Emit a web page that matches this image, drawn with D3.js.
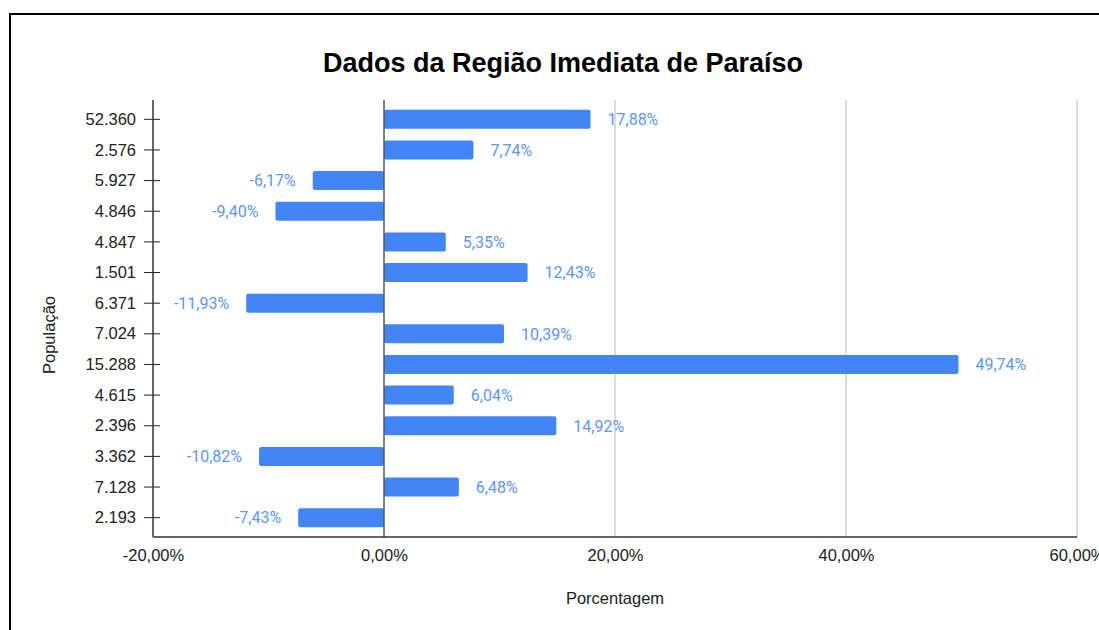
<!DOCTYPE html>
<meta charset="UTF-8">
<style>
    body { margin: 0; background: #fff; }
    text { font-family: "Liberation Sans", Arial, sans-serif; }
    .bar { fill: #4285f4; }
    .label { fill: #5e97f6; font-size: 16px; font-family: Roboto, "Liberation Sans", sans-serif; }
    .grid line { stroke: #d0d0d0; stroke-width: 1.5px; }
</style>
<body>
<div id="chart"></div>
<script src="https://d3js.org/d3.v7.min.js"></script>
<script>

// data
var categories = ["52.360", "2.576", "5.927", "4.846", "4.847", "1.501", "6.371",
                  "7.024", "15.288", "4.615", "2.396", "3.362", "7.128", "2.193"];
var values = [17.88, 7.74, -6.17, -9.40, 5.35, 12.43, -11.93,
              10.39, 49.74, 6.04, 14.92, -10.82, 6.48, -7.43];
var xTicks = [-20, 0, 20, 40, 60];

var width = 1099, height = 630;

// plot area
var plotLeft = 153, plotRight = 1077, plotTop = 100, plotBottom = 537;

var fmt = function(v) { return v.toFixed(2).replace(".", ",") + "%"; };

var svg = d3.select("#chart").append("svg")
    .attr("width", width)
    .attr("height", height);

// frame round the chart (right and bottom edges run off the page)
svg.append("rect")
    .attr("x", 10).attr("y", 14)
    .attr("width", 1200).attr("height", 700)
    .attr("fill", "none")
    .attr("stroke", "#000")
    .attr("stroke-width", 2);

// scales
var x = d3.scaleLinear().domain([-20, 60]).range([plotLeft, plotRight]);
var y = d3.scaleBand().domain(categories).range([104, 533]).paddingInner(0.38).paddingOuter(0.19);

// title
svg.append("text")
    .attr("x", 563).attr("y", 72)
    .attr("text-anchor", "middle")
    .style("font-size", "27px")
    .style("font-weight", "bold")
    .attr("fill", "#000")
    .text("Dados da Região Imediata de Paraíso");

// vertical gridlines
svg.append("g")
    .attr("class", "grid")
    .selectAll("line")
    .data(xTicks.filter(function(d) { return d > 0; }))
    .enter().append("line")
    .attr("x1", function(d) { return x(d); })
    .attr("x2", function(d) { return x(d); })
    .attr("y1", plotTop).attr("y2", plotBottom);

// bars
svg.selectAll(".bar")
    .data(values)
    .enter().append("rect")
    .attr("class", "bar")
    .attr("x", function(d) { return x(Math.min(0, d)); })
    .attr("width", function(d) { return Math.abs(x(d) - x(0)); })
    .attr("y", function(d, i) { return y(categories[i]); })
    .attr("height", y.bandwidth())
    .attr("rx", 2);

// value labels
svg.selectAll(".label")
    .data(values)
    .enter().append("text")
    .attr("class", "label")
    .attr("x", function(d) { return d >= 0 ? x(d) + 17 : x(d) - 17; })
    .attr("y", function(d, i) { return y(categories[i]) + y.bandwidth() / 2; })
    .attr("dy", "0.36em")
    .attr("text-anchor", function(d) { return d >= 0 ? "start" : "end"; })
    .text(fmt);

// zero line
svg.append("line")
    .attr("x1", x(0)).attr("x2", x(0))
    .attr("y1", plotTop).attr("y2", plotBottom)
    .attr("stroke", "#555").attr("stroke-width", 1.5);

// Y axis
var yAxis = svg.append("g")
    .attr("transform", "translate(" + plotLeft + ",0)")
    .call(d3.axisLeft(y).tickSize(9).tickPadding(8));
yAxis.select(".domain").remove();
yAxis.append("line")
    .attr("y1", plotTop).attr("y2", plotBottom)
    .attr("stroke", "#333").attr("stroke-width", 1.5);
yAxis.selectAll(".tick line")
    .attr("x1", 7).attr("x2", -9)
    .attr("stroke", "#222");
yAxis.selectAll(".tick text")
    .attr("fill", "#222")
    .attr("dy", "0.34em")
    .style("font-size", "16.5px");

// X axis
var xAxis = svg.append("g")
    .attr("transform", "translate(0," + plotBottom + ")")
    .call(d3.axisBottom(x).tickValues(xTicks).tickFormat(fmt).tickSize(0).tickPadding(12));
xAxis.select(".domain").remove();
xAxis.append("line")
    .attr("x1", plotLeft).attr("x2", plotRight)
    .attr("stroke", "#333").attr("stroke-width", 1.5);
xAxis.selectAll(".tick text")
    .attr("fill", "#222")
    .style("font-size", "16.5px");

// axis titles
svg.append("text")
    .attr("x", 615).attr("y", 604)
    .attr("text-anchor", "middle")
    .attr("fill", "#222")
    .style("font-size", "16.5px")
    .text("Porcentagem");

svg.append("text")
    .attr("transform", "translate(55,335) rotate(-90)")
    .attr("text-anchor", "middle")
    .attr("fill", "#222")
    .style("font-size", "16.5px")
    .text("População");

</script>
</body>
